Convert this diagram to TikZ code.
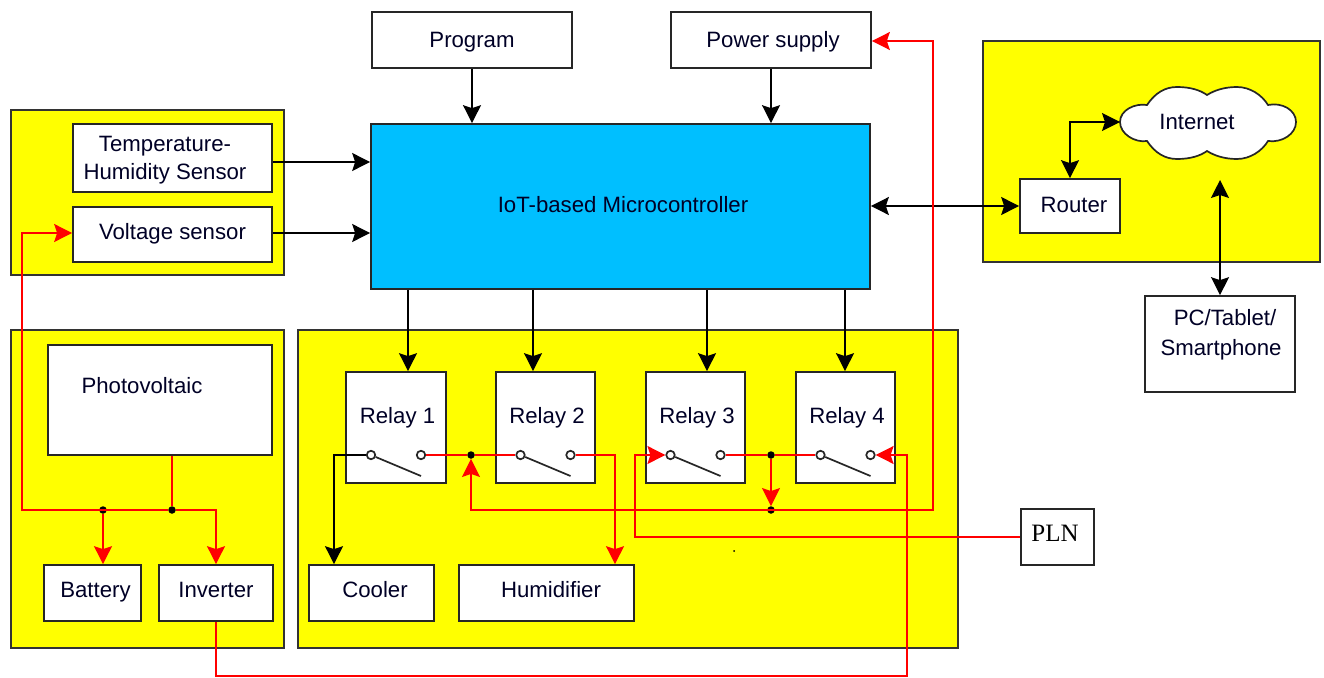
\documentclass[tikz,border=0pt]{standalone}
\usepackage{fontspec}
\setmainfont{Liberation Sans}
\newfontfamily\plnfont{Liberation Serif}
\usetikzlibrary{positioning,arrows.meta}
\definecolor{zoneyellow}{rgb}{1,1,0}
\definecolor{mcublue}{rgb}{0,0.75,1}
\tikzset{
  zone/.style 2 args={draw=black!80, fill=zoneyellow, line width=1.7pt, minimum width=#1, minimum height=#2, inner sep=0pt},
  box/.style 2 args={draw=black!85, fill=white, line width=1.7pt, minimum width=#1, minimum height=#2, inner sep=0pt},
  txt/.style={inner sep=0pt, yshift=-2pt, align=center, font=\fontsize{22.2}{28}\selectfont, text=black!85!blue},
  contact/.style={circle, draw=black!85, fill=white, line width=1.7pt, minimum size=8.5pt, inner sep=0pt},
  junction/.style={circle, fill=black, minimum size=7.5pt, inner sep=0pt},
  wire/.style={line width=1.5pt, -{Stealth[length=18pt,width=18pt,inset=3pt]}},
  biwire/.style={line width=1.5pt, {Stealth[length=18pt,width=18pt,inset=3pt]}-{Stealth[length=18pt,width=18pt,inset=3pt]}},
  redline/.style={line width=1.5pt, red},
}
\begin{document}
\begin{tikzpicture}[x=1pt, y=-1pt]
      \useasboundingbox (0,0) rectangle (1324,677);

      % yellow zones
      \node [zone={273pt}{165pt}] (sensors) at (147.5,192.5) {};
      \node [zone={273pt}{318pt}] (solar) at (147.5,489) {};
      \node [zone={660pt}{318pt}] (loads) at (628,489) {};
      \node [zone={337pt}{221pt}] (network) at (1151.5,151.5) {};

      % top row and controller
      \node [box={200pt}{56pt}] (program) at (472,40) {};
      \node [txt] (programtxt) at (472,40) {Program};
      \node [box={200pt}{56pt}] (power) at (771,40) {};
      \node [txt] (powertxt) at (773,40) {Power supply};
      \node [box={499pt}{165pt}, fill=mcublue] (mcu) at (620.5,206.5) {};
      \node [txt] (mcutxt) at (623,203) {IoT-based Microcontroller};

      % sensors
      \node [box={199pt}{68pt}] (temp) at (172.5,158) {};
      \node [txt] (temptxt) at (165,158) {Temperature-\\Humidity Sensor};
      \node [box={199pt}{55pt}] (volt) at (172.5,234.5) {};
      \node [txt] (volttxt) at (172.5,232) {Voltage sensor};

      % solar side
      \node [box={224pt}{110pt}] (pv) at (160,400) {};
      \node [txt] (pvtxt) at (142,384) {Photovoltaic};
      \node [box={97pt}{56pt}] (battery) at (92.5,593) {};
      \node [txt] (batterytxt) at (95.5,590) {Battery};
      \node [box={114pt}{56pt}] (inverter) at (216,593) {};
      \node [txt] (invertertxt) at (216,588) {Inverter};

      % relays with their contacts
      \foreach \n/\cx in {1/396,2/545.5,3/695.5,4/845.5} {
        \node [box={99.5pt}{111pt}] (relay\n) at (\cx,427.5) {};
        \node [txt] (relaytxt\n) at (\cx+1.5,416) {Relay \n};
        \node [contact] (a\n) at (\cx-25,455) {};
        \node [contact] (b\n) at (\cx+25,455) {};
        \draw [line width=1.7pt, black!85] (a\n) -- ([yshift=-21pt]b\n.center);
      }

      % loads
      \node [box={125pt}{56pt}] (cooler) at (371.5,593) {};
      \node [txt] (coolertxt) at (375,588) {Cooler};
      \node [box={175pt}{56pt}] (humidifier) at (546.5,593) {};
      \node [txt] (humidifiertxt) at (551,588) {Humidifier};

      % network side
      \node [box={100pt}{54pt}] (router) at (1070,206) {};
      \node [txt] (routertxt) at (1074,203) {Router};
      \draw [draw=black!85, fill=white, line width=1.7pt] (1120,122)
        .. controls (1120,110) and (1135,103) .. (1147,105)
        .. controls (1155,93) and (1165,87) .. (1177,87)
        .. controls (1190,87) and (1200,90) .. (1207,95)
        .. controls (1215,90) and (1225,87) .. (1237,87)
        .. controls (1250,87) and (1262,95) .. (1268,105)
        .. controls (1282,102) and (1296,110) .. (1296,122)
        .. controls (1296,134) and (1282,143) .. (1268,141)
        .. controls (1262,151) and (1250,159) .. (1237,159)
        .. controls (1225,159) and (1215,156) .. (1207,151)
        .. controls (1200,156) and (1190,159) .. (1177,159)
        .. controls (1165,159) and (1155,153) .. (1147,141)
        .. controls (1135,143) and (1120,134) .. (1120,122) -- cycle;
      \coordinate (cloudwest) at (1120,122);
      \node [txt] (internet) at (1197,120) {Internet};
      \node [box={150pt}{96pt}] (pc) at (1220,344) {};
      \node [txt, font=\fontsize{22.2}{30}\selectfont] (pctxt) at (1221,333) {\hspace*{8pt}PC/Tablet/\\Smartphone};
      \node [box={73pt}{56pt}] (pln) at (1057.5,537) {};
      \node [txt, font=\fontsize{25}{28}\plnfont, text=black] (plntxt) at (1055,531) {PLN};

      % free ends and junctions
      \coordinate (nettop) at (1220,180);
      \node [junction] (jr1) at (471,455) {};
      \node [junction] (jr3) at (771,455) {};
      \node [junction] (jret) at (771,510) {};
      \node [junction] (jbat) at (103,510) {};
      \node [junction] (jpv) at (172,510) {};
      \node [circle, fill=black, minimum size=2pt, inner sep=0pt] (speck) at (734,551) {};

      % black connections
      \draw [wire] (program.south) -- (program.south |- mcu.north);
      \draw [wire] (power.south) -- (power.south |- mcu.north);
      \draw [wire] (temp.east |- 0,162) -- (mcu.west |- 0,162);
      \draw [wire] (volt.east |- 0,233) -- (mcu.west |- 0,233);
      \draw [biwire] (mcu.east |- router.west) -- (router.west);
      \draw [biwire] (router.north) -- (router.north |- cloudwest) -- (cloudwest);
      \draw [biwire] (nettop) -- (nettop |- pc.north);
      \foreach \n/\dx in {1/12,2/-12.5,3/11.5,4/-0.5} {
        \draw [wire] ([xshift=\dx pt]relay\n.north |- mcu.south) -- ([xshift=\dx pt]relay\n.north);
      }
      \draw [wire] (a1) -- (334,455) -- (334,455 |- cooler.north);

      % red connections
      \draw [redline] (b1) -- (jr1) -- (a2);
      \draw [redline] (b3) -- (jr3) -- (a4);
      \draw [redline, wire] (b2) -- (615,455) -- (615,455 |- humidifier.north);
      \draw [redline, wire] (jr3) -- (jret);
      \node [circle, fill=black, minimum size=5pt, inner sep=0pt] (jret2) at (jret) {};
      \draw [redline, wire] (933,510) -- (jr1 |- 933,510) -- (jr1);
      \draw [redline, wire] (jret) -- (933,510) -- (933,41) -- (power.east |- 0,41);
      \draw [redline, wire] (pln.west) -- (635,537) -- (635,455) -- (a3);
      \draw [redline, wire] (inverter.south) -- (inverter.south |- 0,676) -- (907,676) -- (907,455) -- (b4);
      \draw [redline] (pv.south -| jpv) -- (jpv);
      \draw [redline, wire] (jbat) -- (jbat |- battery.north);
      \draw [redline, wire] (jpv) -- (inverter.north |- jpv) -- (inverter.north);
      \draw [redline, wire] (jpv) -- (22,510) -- (22,233) -- (volt.west |- 0,233);
\end{tikzpicture}
\end{document}
